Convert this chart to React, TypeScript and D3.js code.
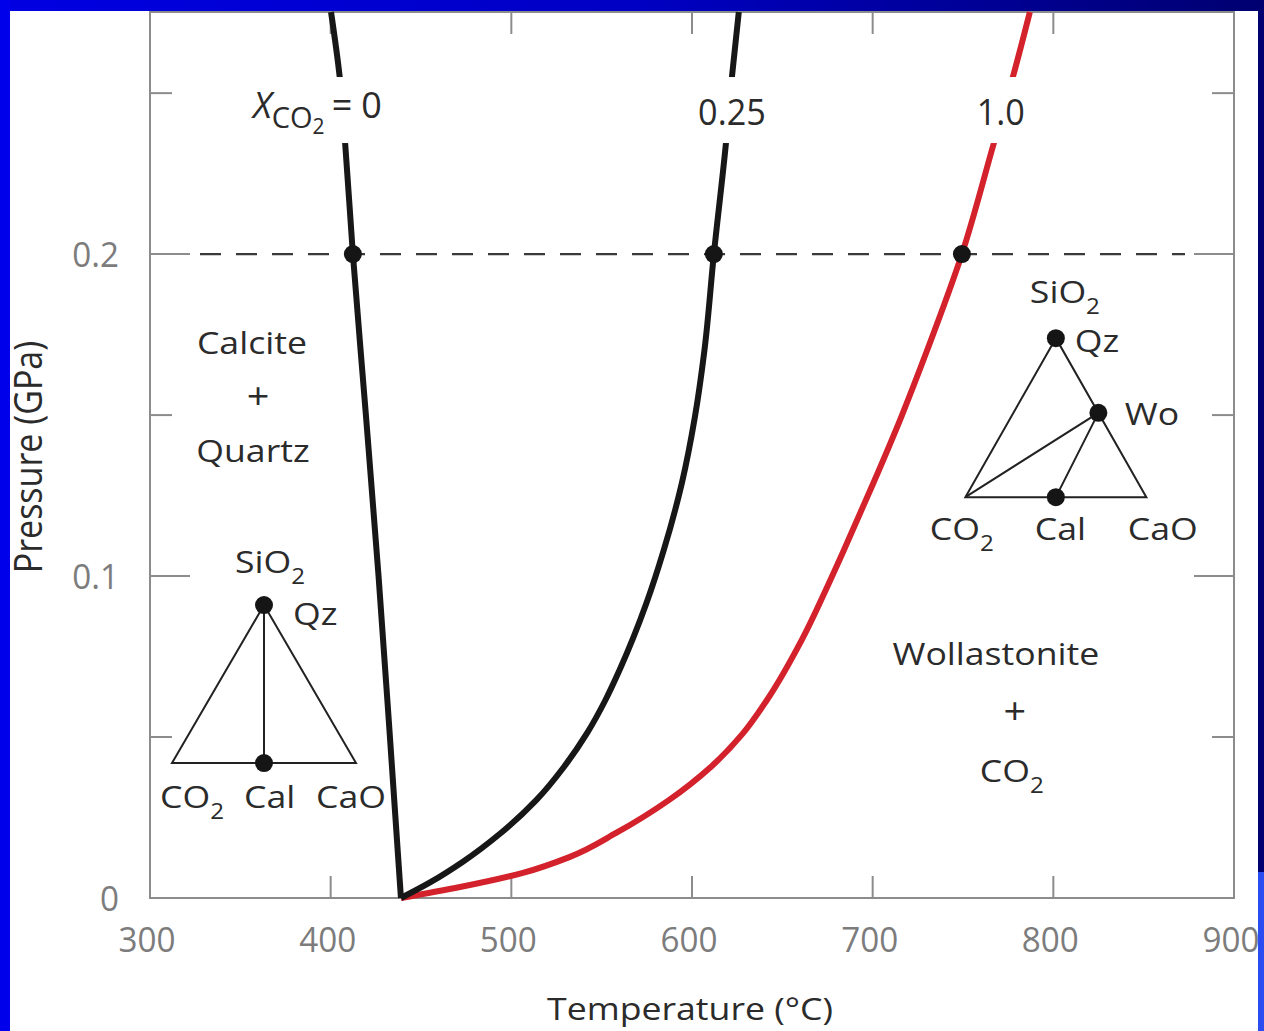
import React, { useRef, useEffect } from 'react';
import * as d3 from 'd3';

const W = 1264;
const H = 1031;
const FONT = "'Open Sans', 'Noto Sans', sans-serif";

// axis ticks
const tempTicks = [300, 400, 500, 600, 700, 800, 900];
const pressMajor = [0, 0.1, 0.2];
const pressMinor = [0.05, 0.15, 0.25];

// reaction curves: T in °C, P in GPa
const xco2ZeroT = [400.2, 405, 408, 412.3, 419.5, 426.5, 432.8, 438.9];
const xco2ZeroP = [0.2752, 0.255, 0.2345, 0.2, 0.15, 0.1, 0.05, 0];

const xco2QuarterT = [625.9, 622.1, 618.8, 612.1, 606.9, 601.6, 594.4, 584.4, 574.8, 559.9, 552.1, 541.9, 529.1, 513.8, 494.2, 473.0, 455.5, 438.9];
const xco2QuarterP = [0.2752, 0.255, 0.2345, 0.2, 0.1702, 0.1494, 0.1289, 0.1081, 0.0916, 0.0708, 0.0615, 0.0512, 0.0407, 0.0304, 0.0202, 0.0112, 0.005, 0];

const xco2OneT = [787.0, 777.6, 767.1, 749.4, 730.2, 715.8, 700.4, 684.1, 676.6, 660.7, 641.5, 628.3, 610.4, 587.2, 558.0, 532.1, 506.4, 471.6, 438.9];
const xco2OneP = [0.2752, 0.255, 0.2345, 0.2, 0.1702, 0.1494, 0.1289, 0.1081, 0.0988, 0.0801, 0.0615, 0.0512, 0.0407, 0.0304, 0.0202, 0.0127, 0.0078, 0.0034, 0];

// the 0.2 GPa isobar and where the curves cross it
const isobarP = 0.2;
const crossingT = [412.3, 612.1, 749.4];

// curve labels sit in a gap of the curves
const labelGapP = [0.2345, 0.255];

type Part = { t: string; dy?: number; fs?: number; italic?: boolean; dx?: number };

const App = () => {
  const svgRef = useRef<SVGSVGElement>(null);

  useEffect(() => {
    const svg = d3.select(svgRef.current);
    svg.selectAll('*').remove();

    const margin = { top: 12, right: 30, bottom: 133, left: 150 };
    const x = d3.scaleLinear().domain([300, 900]).range([margin.left, W - margin.right]);
    const y = d3.scaleLinear().domain([0, 0.2752]).range([H - margin.bottom, margin.top]);
    const [x0, x1] = x.range();
    const [y0, y1] = y.range();

    const addText = (
      g: any, px: number, py: number, parts: Part[],
      o: { fs?: number; sx?: number; anchor?: string; fill?: string } = {}
    ) => {
      const t = g.append('text')
        .attr('transform', `translate(${px},${py}) scale(${o.sx ?? 1.15},1)`)
        .attr('text-anchor', o.anchor ?? 'middle')
        .attr('font-family', FONT)
        .attr('font-size', o.fs ?? 31)
        .attr('fill', o.fill ?? '#2b2b2b');
      let shift = 0;
      parts.forEach(p => {
        const ts = t.append('tspan').text(p.t);
        const target = p.dy ?? 0;
        if (target !== shift) ts.attr('dy', target - shift);
        shift = target;
        if (p.fs) ts.attr('font-size', p.fs);
        if (p.italic) ts.attr('font-style', 'italic');
        if (p.dx) ts.attr('dx', p.dx);
      });
      return t;
    };

    // slide background
    const defs = svg.append('defs');
    const grad = defs.append('linearGradient').attr('id', 'slideGrad').attr('x1', 0).attr('x2', 1).attr('y1', 0).attr('y2', 0);
    grad.append('stop').attr('offset', 0).attr('stop-color', '#0000e2');
    grad.append('stop').attr('offset', 0.5).attr('stop-color', '#0000c4');
    grad.append('stop').attr('offset', 1).attr('stop-color', '#000070');
    svg.append('rect').attr('width', W).attr('height', H).attr('fill', 'url(#slideGrad)');
    svg.append('rect').attr('width', 10).attr('height', H).attr('fill', '#0000ea');
    svg.append('rect').attr('x', W - 8).attr('y', 872).attr('width', 8).attr('height', H - 872).attr('fill', '#2a4cf0');
    svg.append('rect').attr('x', 10).attr('y', 11).attr('width', W - 6 - 10).attr('height', H - 11).attr('fill', '#ffffff');

    // frame and inward ticks
    const axisColor = '#8c8c8c';
    svg.append('rect').attr('x', x0).attr('y', y1).attr('width', x1 - x0).attr('height', y0 - y1)
      .attr('fill', 'none').attr('stroke', axisColor).attr('stroke-width', 2);
    const ticks = svg.append('g').attr('stroke', axisColor).attr('stroke-width', 2);
    tempTicks.slice(1, -1).forEach(t => {
      ticks.append('line').attr('x1', x(t)).attr('x2', x(t)).attr('y1', y0).attr('y2', y0 - 22);
      ticks.append('line').attr('x1', x(t)).attr('x2', x(t)).attr('y1', y1).attr('y2', y1 + 22);
    });
    [...pressMajor.slice(1).map(p => [p, 40]), ...pressMinor.map(p => [p, 22])].forEach(([p, len]) => {
      ticks.append('line').attr('x1', x0).attr('x2', x0 + len).attr('y1', y(p)).attr('y2', y(p));
      ticks.append('line').attr('x1', x1).attr('x2', x1 - len).attr('y1', y(p)).attr('y2', y(p));
    });

    // tick labels
    const tickLab = { fs: 35, sx: 0.95, fill: '#7c7c7c' };
    tempTicks.forEach(t => addText(svg, x(t) - 3, 952, [{ t: String(t) }], tickLab));
    pressMajor.forEach(p => addText(svg, 119, y(p) + 13, [{ t: String(p) }], { ...tickLab, anchor: 'end' }));

    // axis titles
    addText(svg, (x0 + x1) / 2 - 2, 1020, [{ t: 'Temperature (°C)' }]);
    svg.append('text')
      .attr('transform', `translate(42,${(y(0) + y(0.2752)) / 2 + 2}) scale(1.15,1) rotate(-90)`)
      .attr('text-anchor', 'middle').attr('font-family', FONT).attr('font-size', 34).attr('fill', '#2b2b2b')
      .text('Pressure (GPa)');

    // isobar
    svg.append('line')
      .attr('x1', x0 + 50).attr('x2', x1 - 49).attr('y1', y(isobarP)).attr('y2', y(isobarP))
      .attr('stroke', '#3a3a3a').attr('stroke-width', 2.2).attr('stroke-dasharray', '21,15');

    // curves, with a gap for their labels
    const mask = defs.append('mask').attr('id', 'labelGap');
    mask.append('rect').attr('x', 0).attr('y', 0).attr('width', W).attr('height', H).attr('fill', '#fff');
    mask.append('rect').attr('x', x0 + 2).attr('y', y(labelGapP[1])).attr('width', x1 - x0 - 4)
      .attr('height', y(labelGapP[0]) - y(labelGapP[1])).attr('fill', '#000');

    const line = d3.line<[number, number]>()
      .x(d => x(d[0])).y(d => y(d[1]))
      .curve(d3.curveMonotoneY);
    const curves = svg.append('g').attr('mask', 'url(#labelGap)').attr('fill', 'none').attr('stroke-width', 6);
    curves.append('path').attr('d', line(d3.zip(xco2OneT, xco2OneP) as [number, number][])).attr('stroke', '#d3222b');
    curves.append('path').attr('d', line(d3.zip(xco2QuarterT, xco2QuarterP) as [number, number][])).attr('stroke', '#171717');
    curves.append('path').attr('d', line(d3.zip(xco2ZeroT, xco2ZeroP) as [number, number][])).attr('stroke', '#171717');

    crossingT.forEach(t => svg.append('circle').attr('cx', x(t)).attr('cy', y(isobarP)).attr('r', 9).attr('fill', '#151515'));

    // curve labels
    addText(svg, x(357), y(0.2422), [
      { t: 'X', italic: true, fs: 36 },
      { t: 'CO', dy: 10, fs: 29 },
      { t: '2', dy: 16, fs: 21 },
      { t: '=', dy: 0, fs: 36, dx: 7 },
      { t: '0', dy: 0, fs: 36, dx: 9 },
    ], { anchor: 'start', sx: 1 });
    addText(svg, x(622.1), y(0.24), [{ t: '0.25' }], { fs: 36, sx: 0.95 });
    addText(svg, x(770.9), y(0.24), [{ t: '1.0' }], { fs: 36, sx: 0.95 });

    // phase field labels
    const sub2 = (s: string): Part[] => [{ t: s }, { t: '2', dy: 11, fs: 21 }];
    addText(svg, x(356.4), y(0.1689), [{ t: 'Calcite' }]);
    addText(svg, x(359.8), y(0.152), [{ t: '+' }], { fs: 36, sx: 1.1 });
    addText(svg, x(357), y(0.1354), [{ t: 'Quartz' }]);
    addText(svg, x(768.2), y(0.0724), [{ t: 'Wollastonite' }]);
    addText(svg, x(778.7), y(0.0539), [{ t: '+' }], { fs: 36, sx: 1.1 });
    addText(svg, x(777), y(0.036), sub2('CO'));

    // chemography triangles SiO2 – CO2 – CaO
    const triangle = (apexT: number, apexP: number, w: number, h: number, wo: boolean) => {
      const ax = x(apexT), ay = y(apexP);
      const g = svg.append('g');
      const L: [number, number] = [ax - w / 2, ay + h];
      const R: [number, number] = [ax + w / 2, ay + h];
      const cal: [number, number] = [ax, ay + h];
      const woPt: [number, number] = [ax + 0.47 * (w / 2), ay + 0.47 * h];
      g.append('path').attr('d', `M${ax},${ay}L${L[0]},${L[1]}L${R[0]},${R[1]}Z`)
        .attr('fill', 'none').attr('stroke', '#222').attr('stroke-width', 2).attr('stroke-linejoin', 'miter');
      if (wo) {
        g.append('path').attr('d', `M${L[0]},${L[1]}L${woPt[0]},${woPt[1]}L${cal[0]},${cal[1]}`)
          .attr('fill', 'none').attr('stroke', '#222').attr('stroke-width', 2);
      } else {
        g.append('line').attr('x1', ax).attr('y1', ay).attr('x2', cal[0]).attr('y2', cal[1])
          .attr('stroke', '#222').attr('stroke-width', 2);
      }
      const pts = wo ? [[ax, ay], woPt, cal] : [[ax, ay], cal];
      pts.forEach(p => g.append('circle').attr('cx', p[0]).attr('cy', p[1]).attr('r', 9).attr('fill', '#151515'));
      return { ax, ay, g };
    };

    const left = triangle(363.1, 0.091, 184, 158, false);
    const tl = { anchor: 'start' };
    addText(svg, left.ax - 29, left.ay - 32, sub2('SiO'), tl);
    addText(svg, left.ax + 29, left.ay + 20, [{ t: 'Qz' }], tl);
    addText(svg, left.ax - 104, left.ay + 203, sub2('CO'), tl);
    addText(svg, left.ax - 20, left.ay + 203, [{ t: 'Cal' }], tl);
    addText(svg, left.ax + 52, left.ay + 203, [{ t: 'CaO' }], tl);

    const right = triangle(801.4, 0.1739, 181, 159, true);
    addText(svg, right.ax - 26, right.ay - 35, sub2('SiO'), tl);
    addText(svg, right.ax + 19, right.ay + 14, [{ t: 'Qz' }], tl);
    addText(svg, right.ax + 69, right.ay + 87, [{ t: 'Wo' }], tl);
    addText(svg, right.ax - 126, right.ay + 202, sub2('CO'), tl);
    addText(svg, right.ax - 21, right.ay + 202, [{ t: 'Cal' }], tl);
    addText(svg, right.ax + 72, right.ay + 202, [{ t: 'CaO' }], tl);
  }, []);

  return (
    <svg
      ref={svgRef}
      width={W}
      height={H}
      style={{ position: 'absolute', left: 0, top: 0, display: 'block' }}
    />
  );
};

export default App;
